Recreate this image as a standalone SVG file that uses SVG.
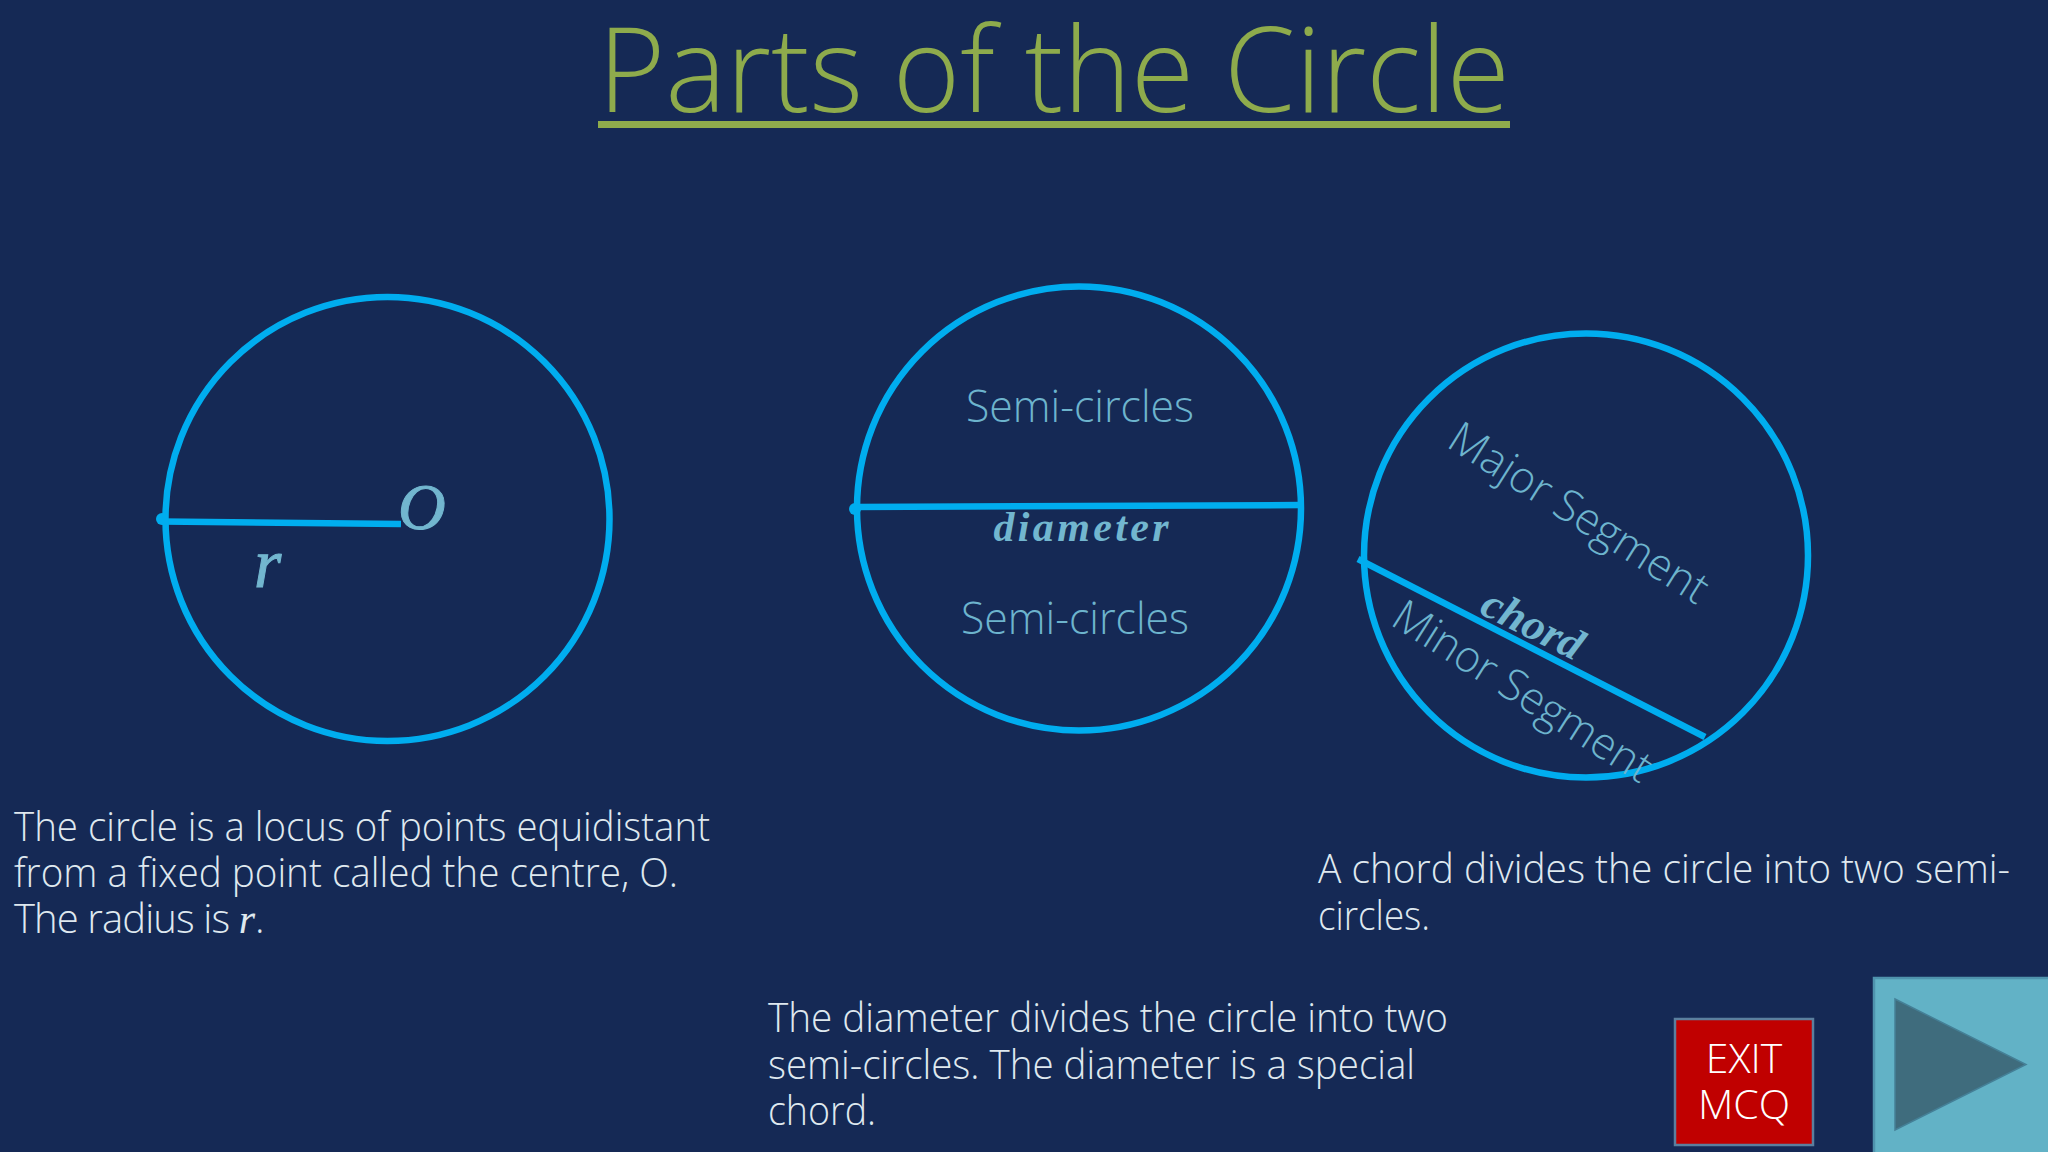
<svg xmlns="http://www.w3.org/2000/svg" width="2048" height="1152" viewBox="0 0 2048 1152">
<style>
.c{fill:none;stroke:#00adef;stroke-width:6.5}
.l{stroke:#00adef;stroke-width:6.5;fill:none}
.t{font-family:"Open Sans","Noto Sans",sans-serif;font-weight:300;font-size:40px;fill:#dfe8ef}
.p{font-family:"Open Sans","Noto Sans",sans-serif;font-weight:300;font-size:44px;fill:#6db4cd}
.m{font-family:"Liberation Serif","DejaVu Serif",serif;font-style:italic;fill:#72b6cf}
</style>
<rect width="2048" height="1152" fill="#152955"/>
<g id="title">
<text x="598" y="112" font-family="Open Sans,Noto Sans,sans-serif" font-weight="300" font-size="118" fill="#8eab4c" textLength="912" lengthAdjust="spacingAndGlyphs">Parts of the Circle</text>
<rect x="598" y="121" width="912" height="7" fill="#8eab4c"/>
</g>
<g id="connectors">
<path class="l" d="M162 521.500L401 524"/>
<circle cx="162" cy="519" r="6" fill="#00adef"/>
<path class="l" d="M855 507L1301 505"/>
<circle cx="855" cy="509" r="6" fill="#00adef"/>
<path class="l" d="M1358 559L1705 737"/>
</g>
<g id="circle-radius">
<circle class="c" cx="387.500" cy="519" r="222"/>
<text class="m" x="398" y="529" font-size="66" stroke="#72b6cf" stroke-width="1">O</text>
<text class="m" x="254" y="587" font-size="70" stroke="#72b6cf" stroke-width="1">r</text>
<text class="t" x="14" y="841" textLength="696" lengthAdjust="spacingAndGlyphs">The circle is a locus of points equidistant</text>
<text class="t" x="14" y="887" textLength="664" lengthAdjust="spacingAndGlyphs">from a fixed point called the centre, O.</text>
<text class="t" x="14" y="933"><tspan letter-spacing="-0.900">The radius is </tspan><tspan font-family="Liberation Serif,DejaVu Serif,serif" font-style="italic" font-weight="400" font-size="42">r</tspan>.</text>
</g>
<g id="circle-diameter">
<circle class="c" cx="1079" cy="508.500" r="222"/>
<text class="p" x="1080" y="422" text-anchor="middle" textLength="228" lengthAdjust="spacingAndGlyphs">Semi-circles</text>
<text class="m" x="1081" y="541" font-size="42" font-weight="700" text-anchor="middle" textLength="175" lengthAdjust="spacing">diameter</text>
<text class="p" x="1075" y="634" text-anchor="middle" textLength="228" lengthAdjust="spacingAndGlyphs">Semi-circles</text>
<text class="t" x="768" y="1032" textLength="680" lengthAdjust="spacingAndGlyphs">The diameter divides the circle into two</text>
<text class="t" x="768" y="1079" textLength="647" lengthAdjust="spacingAndGlyphs">semi-circles. The diameter is a special</text>
<text class="t" x="768" y="1125" textLength="108" lengthAdjust="spacingAndGlyphs">chord.</text>
</g>
<g id="circle-chord">
<circle class="c" cx="1586" cy="555.500" r="222"/>
<text class="p" transform="translate(1445 446) rotate(32.300)" textLength="298" lengthAdjust="spacingAndGlyphs">Major Segment</text>
<text class="p" transform="translate(1389 624) rotate(32.500)" textLength="298" lengthAdjust="spacingAndGlyphs">Minor Segment</text>
<text class="m" transform="translate(1478 613) rotate(26.500)" font-size="44" font-weight="700" textLength="108" lengthAdjust="spacingAndGlyphs">chord</text>
<text class="t" x="1318" y="883" textLength="692" lengthAdjust="spacingAndGlyphs">A chord divides the circle into two semi-</text>
<text class="t" x="1318" y="930" textLength="112" lengthAdjust="spacingAndGlyphs">circles.</text>
</g>
<g id="exit-button">
<rect x="1675" y="1019" width="138" height="126" fill="#c00000" stroke="#5b7f9e" stroke-width="2.500"/>
<text x="1744" y="1073" text-anchor="middle" font-family="Open Sans,Noto Sans,sans-serif" font-weight="300" font-size="41" fill="#fff">EXIT</text>
<text x="1744" y="1119" text-anchor="middle" font-family="Open Sans,Noto Sans,sans-serif" font-weight="300" font-size="41" fill="#fff">MCQ</text>
</g>
<g id="next-button">
<rect x="1874" y="978" width="176" height="176" fill="#62b2c6" stroke="#4f93ad" stroke-width="2.500"/>
<path d="M1895 999L2026 1064.500L1895 1130Z" fill="#3f6c7d" stroke="#458097" stroke-width="1.500"/>
</g>
</svg>
